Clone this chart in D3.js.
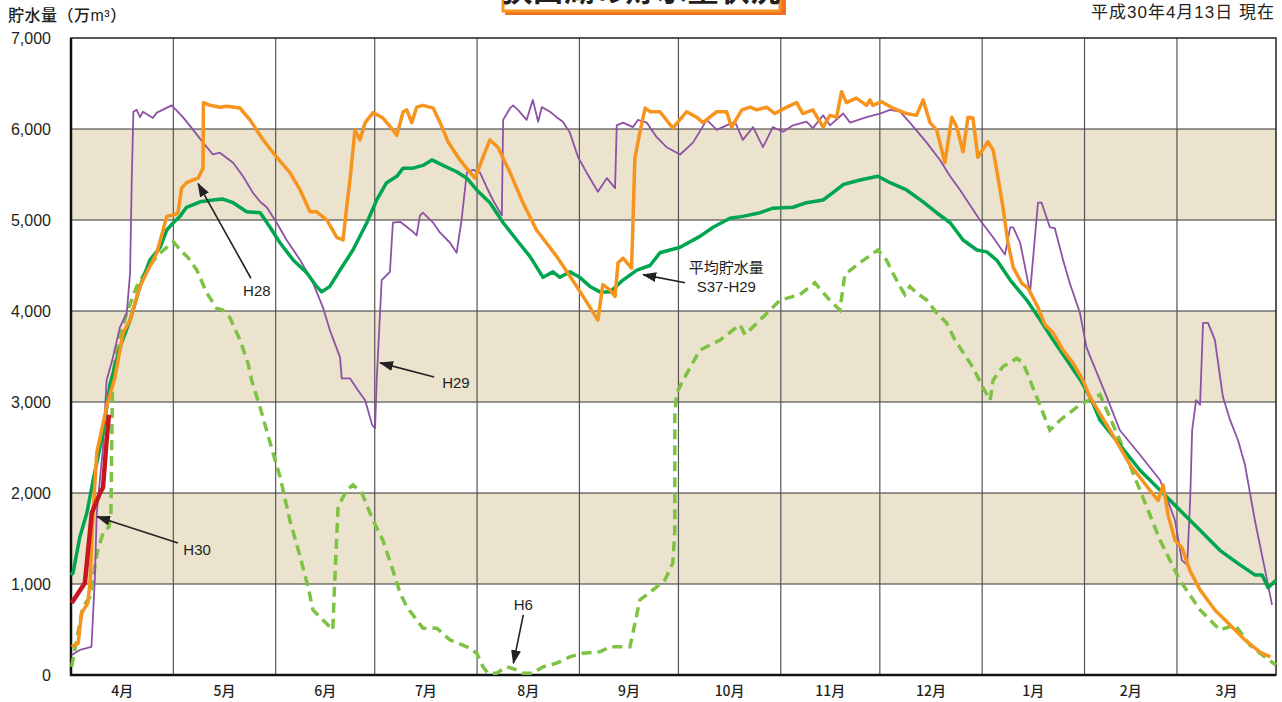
<html>
<head>
  <meta charset="utf-8">
  <script src="https://d3js.org/d3.v7.min.js"></script>
  <title>貯水量の推移</title>
  <style>
    body { margin: 0; background: #fff; }
    text { font-family: "Liberation Sans", "Noto Sans CJK JP", sans-serif; fill: #231f20; }
  </style>
</head>
<body>
  <svg id="chart" width="1282" height="702"></svg>
  <script>
    // x = days counted from Apr 1 (Apr 1 = 0), y = 万m3
    var monthLabels = ["4月","5月","6月","7月","8月","9月","10月","11月","12月","1月","2月","3月"];
    var monthEdges = [-1, 30, 61, 91, 122, 153, 183, 214, 244, 275, 306, 334, 364];
    var yTicks = [0, 1000, 2000, 3000, 4000, 5000, 6000, 7000];
    var bands = [[1000, 2000], [3000, 4000], [5000, 6000]];

    var h30 = [[-0.8,790],[3.2,1010],[5.3,1780],[7.8,2000],[8.7,2060],[9.8,2580],[10.5,2860]];

    var h6 = [[-0.8,90],[2.6,750],[4.8,860],[6.9,1340],[8.7,1560],[10.5,1630],[11.1,1780],[11.3,2470],[11.6,3240],
      [12.8,3600],[15.9,3980],[18.9,4270],[21.9,4450],[25,4600],[28,4700],[30,4760],[32.9,4640],[34.4,4590],
      [37.1,4450],[40.1,4200],[43.1,4030],[45,4010],[47.1,3930],[50.2,3680],[52.6,3430],[53.7,3240],[56.2,2950],
      [60.2,2440],[62.3,2180],[65.3,1700],[68.4,1300],[70.8,970],[72.3,715],[75.3,605],[78.3,495],[78.9,1045],
      [79.9,1850],[82.5,2030],[84.4,2090],[87.1,2000],[90.5,1700],[93.5,1480],[96.5,1150],[98.7,900],[100.7,750],
      [103.7,605],[105.6,515],[109.8,515],[113.8,385],[118.9,310],[121.9,240],[123.8,90],[125.3,20],[127.9,20],
      [131,90],[134,55],[135.9,20],[138.9,20],[142,90],[146.1,130],[150.1,200],[154.1,240],[159.2,255],[162.3,310],
      [168.3,310],[169.2,460],[171.3,825],[175.3,935],[178.9,1045],[181.3,1230],[181.9,1590],[181.9,2140],
      [181.9,2880],[182.5,3100],[184.4,3240],[189.5,3570],[195.6,3680],[201.6,3850],[203.2,3740],[207.7,3900],
      [213.8,4120],[219.8,4180],[224.3,4310],[228.8,4120],[231.9,4010],[233.4,4400],[237.9,4530],[243.4,4670],
      [246,4560],[247.9,4420],[250.1,4270],[251.6,4180],[253.1,4270],[255.1,4200],[258.2,4120],[261.2,3980],
      [264.2,3870],[266.8,3680],[272.2,3380],[275.2,3160],[277.4,3020],[278.3,3240],[281.3,3390],[285.5,3480],
      [287.4,3430],[295.5,2690],[298.6,2800],[304.6,2970],[310.7,3080],[316.7,2580],[322.8,2030],[328.9,1480],
      [334.9,1040],[341,715],[347,495],[351.6,550],[356.1,330],[359.8,220],[364,110]];

    var avg = [[-1,1100],[-0.4,1120],[1.7,1520],[3.8,1780],[5.7,2140],[8.7,2660],[10.8,3190],[13.8,3600],
      [16.9,3900],[19.9,4270],[22.9,4560],[26,4700],[28,4890],[30,4970],[32,5040],[34,5140],[38.1,5200],
      [42,5220],[45,5230],[48.1,5190],[52.2,5090],[56.3,5080],[59.3,4920],[62.3,4750],[66.3,4560],[70.4,4420],
      [73.4,4270],[74.9,4210],[77.4,4270],[80.5,4450],[84.4,4670],[88.6,4970],[91.6,5220],[94.6,5410],
      [97.7,5480],[99.6,5570],[102.6,5570],[105.6,5600],[108.3,5660],[111.7,5600],[115.8,5530],[118.9,5460],
      [121.9,5330],[125.9,5190],[129.9,4970],[134,4780],[138,4600],[142,4370],[145,4430],[147.1,4370],
      [150.1,4430],[153.1,4370],[156.2,4270],[159.2,4210],[162.3,4210],[166.2,4340],[170.4,4450],[174.4,4500],
      [177.4,4640],[183.5,4700],[189.5,4820],[193.5,4920],[198.6,5020],[202.5,5040],[207.7,5080],[211.6,5130],
      [217.7,5140],[221.8,5190],[226.8,5220],[229.8,5300],[232.9,5390],[238,5440],[243.4,5480],[247.1,5410],
      [252.1,5330],[257.1,5200],[261.2,5080],[265.3,4970],[269.2,4780],[273.4,4670],[276.4,4650],[279.4,4560],
      [283.5,4340],[288.5,4120],[292.6,3900],[296.5,3680],[300.7,3460],[304.8,3240],[307.9,3040],[310.7,2800],
      [316.7,2530],[322.8,2250],[328.9,2030],[334.9,1810],[341,1590],[347,1370],[353.1,1210],[357.6,1100],
      [359.8,1100],[361.6,960],[364,1040]];

    var h29 = [[-0.8,220],[1.7,275],[5.2,310],[6.2,1045],[6.8,1780],[8.7,2500],[9.8,3240],[11.7,3490],
      [13.8,3820],[15.9,3980],[16.9,4420],[17.4,5440],[17.9,6190],[18.9,6210],[19.9,6130],[20.8,6190],
      [23.8,6120],[25,6180],[29.5,6260],[32.9,6130],[36,5990],[39,5850],[42,5720],[44.1,5740],[48.1,5630],
      [51.1,5480],[54.1,5300],[56.3,5200],[58.3,5140],[61.3,4970],[64.3,4780],[68.4,4560],[72.3,4310],
      [75.3,4040],[77.4,3790],[80.5,3490],[81,3260],[83.5,3260],[85.9,3130],[88.1,3020],[90.2,2750],[91.1,2710],
      [91.6,3240],[93.1,4340],[95.6,4430],[96.5,4970],[98.7,4980],[102.6,4870],[103.7,4830],[104.7,5050],
      [105.6,5080],[108.7,4970],[110.8,4860],[113.8,4750],[115.8,4640],[117.3,5000],[118.9,5520],[120.8,5550],
      [122.9,5520],[124.9,5360],[126.8,5220],[129.5,5050],[129.9,6100],[132,6230],[132.9,6260],[134.4,6210],
      [137,6100],[138.9,6320],[140.5,6080],[141.6,6240],[144.1,6190],[146.1,6130],[148,6080],[150.1,5960],
      [152.6,5690],[155.2,5520],[158.6,5310],[161.3,5460],[163.8,5350],[164.3,6040],[166.2,6070],[169.2,6020],
      [170.7,6100],[173.4,6070],[176.4,5910],[179.4,5800],[183.5,5720],[187.4,5850],[191.6,6100],[194.6,5990],
      [197.6,6040],[200.1,6080],[202.5,5880],[205.6,6020],[208.6,5800],[211.6,6020],[214.7,5970],[217.7,6040],
      [221.8,6080],[223.7,6010],[226.8,6150],[228.9,6040],[232.9,6170],[235,6070],[240,6130],[244,6170],
      [247.1,6210],[250.1,6190],[253.1,6070],[258.2,5850],[262.2,5660],[265.3,5480],[268.3,5330],[274.3,5000],
      [278.3,4810],[281.9,4620],[283.5,4920],[284.4,4920],[286.5,4750],[288,4480],[289.5,4200],[291.9,5190],
      [293,5190],[295.5,4920],[297,4910],[299.5,4560],[301.5,4310],[304.6,3980],[306.6,3600],[308.5,3430],
      [312.7,3060],[316.7,2690],[322.8,2420],[328.9,2140],[333.4,1700],[335.5,1260],[337.1,1210],[338,1920],
      [338.6,2690],[339.8,3020],[341,2970],[341.9,3870],[343.4,3870],[345.5,3680],[347.9,3060],[350.1,2800],
      [352.5,2580],[354.6,2310],[357.6,1700],[360.7,1150],[362.8,770]];

    var h28 = [[-0.8,310],[1.2,350],[2.2,680],[4.1,790],[4.8,1045],[5.7,1780],[6.8,2440],[9.8,2950],
      [12.3,3270],[14.8,3760],[16.9,3900],[19.9,4270],[21.9,4420],[25,4640],[26.9,4890],[28,5040],[30.5,5060],
      [31.4,5080],[32.5,5350],[34,5410],[36,5440],[37.5,5460],[39,5570],[39.1,6290],[41.1,6260],[44.1,6240],
      [46.2,6250],[50.2,6230],[53.2,6100],[57.2,5880],[61.3,5690],[65.3,5520],[68.4,5330],[71.4,5090],
      [73.4,5090],[76.5,5000],[79.5,4810],[81.4,4780],[82.5,5140],[83.5,5440],[85,5990],[86.5,5880],[88.1,6070],
      [90.5,6180],[93.5,6120],[96.5,5990],[97.7,5930],[99.6,6190],[100.7,6210],[102.2,6070],[103.7,6240],
      [105.6,6260],[108.7,6230],[110.8,6070],[113.2,5860],[116.8,5660],[119.9,5520],[121.4,5460],[123.8,5690],
      [125.9,5880],[128.3,5800],[132,5520],[135.9,5190],[140,4890],[146.1,4600],[152.2,4270],[156.2,4040],
      [158.6,3900],[160.1,4290],[162.3,4230],[163.8,4160],[164.7,4530],[166.2,4580],[168.8,4470],[169.8,5680],
      [171.3,5960],[172.9,6230],[174.4,6190],[177.4,6190],[181.3,6010],[185.5,6190],[188.5,6130],[190.4,6070],
      [194.6,6190],[197.6,6190],[199.1,6020],[202.2,6210],[204.7,6240],[206.7,6210],[209.7,6240],[212.2,6170],
      [215.8,6240],[218.8,6290],[220.7,6170],[223.7,6210],[226.8,6020],[228.9,6150],[230.9,6130],[232.4,6410],
      [233.9,6290],[236.9,6340],[240,6260],[241,6320],[241.9,6260],[244.5,6300],[247.9,6230],[252.1,6170],
      [255.1,6150],[257.1,6320],[259.2,6070],[261.2,5990],[263.7,5630],[265.8,6130],[267.3,6020],[269.2,5750],
      [270.7,6130],[272.2,6120],[273.7,5690],[276.7,5860],[278.3,5770],[279.4,5550],[281.3,5140],[282.8,4750],
      [284.4,4480],[286.9,4310],[288.9,4250],[291.9,4040],[294,3850],[296.5,3760],[299.5,3570],[302.5,3430],
      [305.5,3240],[307.6,3060],[313.7,2690],[319.8,2310],[325.8,2030],[328.3,1920],[329.8,2090],[331.3,1760],
      [333.4,1480],[335.5,1400],[337.9,1150],[341,935],[345.5,715],[350.1,550],[354.6,385],[359.2,250],[362.3,200]];

    // annotations: label position, arrow tail, arrow tip (all in day / 万m3)
    var notes = [
      {text: ["H28"], at: [55.3, 4220], from: [53.5, 4360], to: [37.5, 5400]},
      {text: ["H29"], at: [115.6, 3210], from: [109, 3275], to: [92.6, 3430]},
      {text: ["H30"], at: [37.2, 1375], from: [31.4, 1450], to: [6.9, 1740]},
      {text: ["H6"], at: [136, 770], from: [136, 660], to: [133, 130]},
      {text: ["平均貯水量", "S37-H29"], at: [197.5, 4370], from: [185, 4310], to: [172.3, 4400]}
    ];

    var svg = d3.select("#chart");
    var x = d3.scaleLinear().domain([-1, 364]).range([71, 1276]);
    var y = d3.scaleLinear().domain([0, 7000]).range([675, 38]);

    // tan bands
    svg.selectAll("rect.band")
      .data(bands)
      .enter()
      .append("rect")
      .attr("x", x(-1))
      .attr("width", x(364) - x(-1))
      .attr("y", function(d){ return y(d[1]); })
      .attr("height", function(d){ return y(d[0]) - y(d[1]); })
      .attr("fill", "#ebe3cd");

    // grid
    svg.selectAll("line.hgrid")
      .data(yTicks.slice(1, -1))
      .enter()
      .append("line")
      .attr("x1", x(-1)).attr("x2", x(364))
      .attr("y1", function(d){ return y(d); })
      .attr("y2", function(d){ return y(d); })
      .style("stroke", "#333")
      .style("stroke-width", 1);
    svg.selectAll("line.vgrid")
      .data(monthEdges.slice(1, -1))
      .enter()
      .append("line")
      .attr("x1", function(d){ return x(d); })
      .attr("x2", function(d){ return x(d); })
      .attr("y1", y(7000)).attr("y2", y(0))
      .style("stroke", "#555")
      .style("stroke-width", 1.2);

    // frame
    svg.append("rect")
      .attr("x", x(-1)).attr("y", y(7000))
      .attr("width", x(364) - x(-1)).attr("height", y(0) - y(7000))
      .attr("fill", "none")
      .style("stroke", "#222")
      .style("stroke-width", 1.5);
    svg.append("path")
      .attr("d", "M" + x(-1) + "," + y(7000) + "V" + y(0) + "H" + x(364))
      .attr("fill", "none")
      .style("stroke", "#111")
      .style("stroke-width", 2.5);

    // y tick labels
    svg.selectAll("text.ytick")
      .data(yTicks)
      .enter()
      .append("text")
      .attr("x", 51)
      .attr("y", function(d){ return y(d); })
      .attr("dy", "0.36em")
      .attr("text-anchor", "end")
      .style("font-size", "16px")
      .text(function(d){ return d3.format(",")(d); });

    // month labels
    svg.selectAll("text.month")
      .data(monthLabels)
      .enter()
      .append("text")
      .attr("x", function(d, i){ return x((monthEdges[i] + monthEdges[i + 1]) / 2); })
      .attr("y", 696)
      .attr("text-anchor", "middle")
      .style("font-family", "'Noto Sans CJK JP', sans-serif")
      .style("font-size", "14px")
      .style("font-weight", "500")
      .text(function(d){ return d; });

    // titles
    svg.append("text")
      .attr("x", 8).attr("y", 21)
      .style("font-size", "16px")
      .style("letter-spacing", "0.5px")
      .style("font-weight", "500")
      .text("貯水量（万m³）");
    svg.append("text")
      .attr("x", 1275).attr("y", 18)
      .attr("text-anchor", "end")
      .style("font-size", "17px")
      .style("letter-spacing", "1px")
      .text("平成30年4月13日 現在");

    // cut-off title box at the top
    svg.append("rect")
      .attr("x", 505).attr("y", -40).attr("width", 281).attr("height", 55)
      .attr("fill", "#f26f21");
    svg.append("rect")
      .attr("x", 503).attr("y", -40).attr("width", 277).attr("height", 51)
      .attr("fill", "#fff")
      .style("stroke", "#f7941d")
      .style("stroke-width", 3);
    svg.append("text")
      .attr("x", 641).attr("y", 1)
      .attr("text-anchor", "middle")
      .style("font-family", "'Noto Sans CJK JP', sans-serif")
      .style("font-size", "31px")
      .style("font-weight", "700")
      .text("狭山湖の貯水量状況");

    // lines
    var line = d3.line()
      .x(function(d){ return x(d[0]); })
      .y(function(d){ return y(d[1]); });

    svg.append("path").datum(h6)
      .attr("d", line).attr("fill", "none")
      .style("stroke", "#7dc243").style("stroke-width", 3.5)
      .style("stroke-dasharray", "10,6");
    svg.append("path").datum(h29)
      .attr("d", line).attr("fill", "none")
      .style("stroke", "#8d52a5").style("stroke-width", 1.8)
      .style("stroke-linejoin", "round");
    svg.append("path").datum(avg)
      .attr("d", line).attr("fill", "none")
      .style("stroke", "#00a54f").style("stroke-width", 3.5)
      .style("stroke-linejoin", "round");
    svg.append("path").datum(h28)
      .attr("d", line).attr("fill", "none")
      .style("stroke", "#f7941d").style("stroke-width", 3.5)
      .style("stroke-linejoin", "round");
    svg.append("path").datum(h30)
      .attr("d", line).attr("fill", "none")
      .style("stroke", "#c8161e").style("stroke-width", 4.5)
      .style("stroke-linejoin", "round");

    // annotation arrows
    svg.append("defs").append("marker")
      .attr("id", "arrow")
      .attr("markerUnits", "userSpaceOnUse")
      .attr("markerWidth", 14).attr("markerHeight", 10)
      .attr("refX", 13).attr("refY", 5)
      .attr("orient", "auto")
      .append("path")
      .attr("d", "M0,0L14,5L0,10z")
      .attr("fill", "#222");

    var note = svg.selectAll("g.note")
      .data(notes)
      .enter()
      .append("g");
    note.append("line")
      .attr("x1", function(d){ return x(d.from[0]); })
      .attr("y1", function(d){ return y(d.from[1]); })
      .attr("x2", function(d){ return x(d.to[0]); })
      .attr("y2", function(d){ return y(d.to[1]); })
      .style("stroke", "#222")
      .style("stroke-width", 1.6)
      .attr("marker-end", "url(#arrow)");
    note.each(function(d){
      var g = d3.select(this);
      var lh = 19;
      var top = y(d.at[1]) - (d.text.length - 1) * lh / 2;
      d.text.forEach(function(t, i){
        g.append("text")
          .attr("x", x(d.at[0]))
          .attr("y", top + i * lh)
          .attr("dy", "0.36em")
          .attr("text-anchor", "middle")
          .style("font-size", "15px")
          .text(t);
      });
    });
  </script>
</body>
</html>
